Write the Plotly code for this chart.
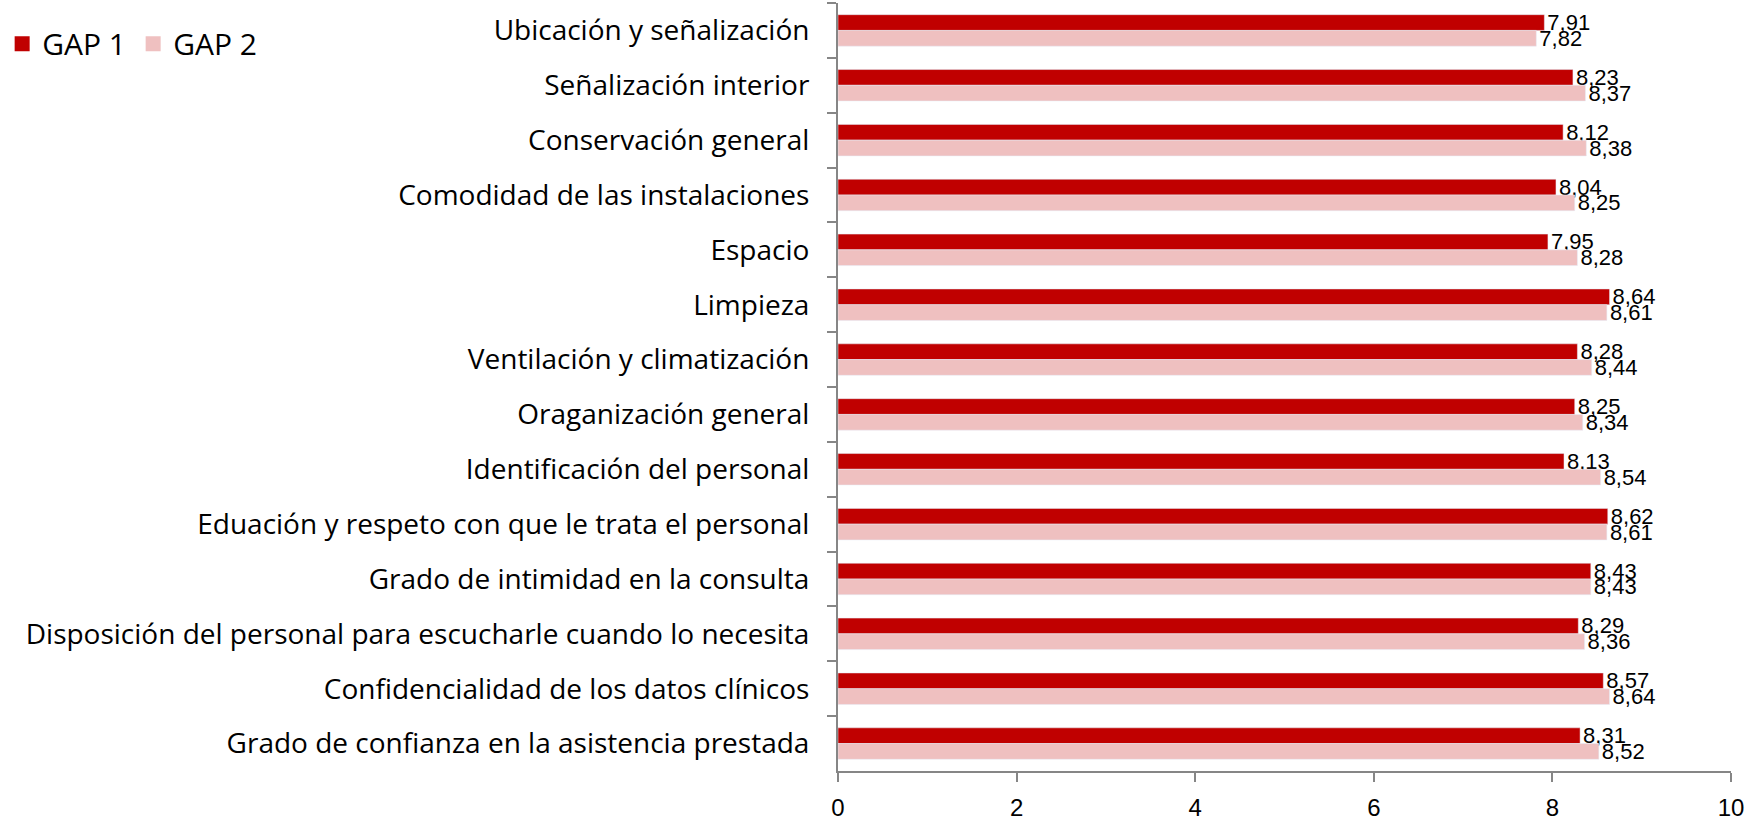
import plotly.graph_objects as go

categories = [
    "Ubicación y señalización",
    "Señalización interior",
    "Conservación general",
    "Comodidad de las instalaciones",
    "Espacio",
    "Limpieza",
    "Ventilación y climatización",
    "Oraganización general",
    "Identificación del personal",
    "Eduación y respeto con que le trata el personal",
    "Grado de intimidad en la consulta",
    "Disposición del personal para escucharle cuando lo necesita",
    "Confidencialidad de los datos clínicos",
    "Grado de confianza en la asistencia prestada",
]
gap1 = [7.91, 8.23, 8.12, 8.04, 7.95, 8.64, 8.28, 8.25, 8.13, 8.62, 8.43, 8.29, 8.57, 8.31]
gap2 = [7.82, 8.37, 8.38, 8.25, 8.28, 8.61, 8.44, 8.34, 8.54, 8.61, 8.43, 8.36, 8.64, 8.52]

RED = "#C00000"
PINK = "#EFC0C0"
num_font = "Liberation Sans, Arial, sans-serif"
label_font = dict(family=num_font, size=22, color="black")

fig = go.Figure()
fig.add_trace(go.Bar(y=categories, x=gap1, name="GAP 1", orientation="h",
                     marker_color=RED, texttemplate="%{x:.2f}",
                     textposition="outside", textfont=label_font, constraintext="none",
                     cliponaxis=False, showlegend=False))
fig.add_trace(go.Bar(y=categories, x=gap2, name="GAP 2", orientation="h",
                     marker_color=PINK, texttemplate="%{x:.2f}",
                     textposition="outside", textfont=label_font, constraintext="none",
                     cliponaxis=False, showlegend=False))
# legend entries with bigger square swatches
for name, col in [("GAP 1", RED), ("GAP 2", PINK)]:
    fig.add_trace(go.Scatter(x=[None], y=[None], mode="markers", name=name,
                             marker=dict(symbol="square", size=15, color=col)))

fig.update_layout(
    width=1762, height=820,
    margin=dict(l=827, r=31, t=3, b=49),
    barmode="group", bargap=0.426, bargroupgap=0,
    separators=",.",
    plot_bgcolor="white", paper_bgcolor="white",
    font=dict(family="Open Sans, sans-serif", size=28, color="black"),
    legend=dict(orientation="h", x=-0.936, y=0.947, yanchor="middle", xanchor="left",
                font=dict(size=30), itemwidth=30, entrywidth=86,
                traceorder="normal", tracegroupgap=0),
)
fig.update_xaxes(range=[0, 10], dtick=2, showline=True, linecolor="#868686", linewidth=2,
                 ticks="outside", tickcolor="#868686", ticklen=9, tickwidth=2,
                 showgrid=False, zeroline=False, automargin=False, ticklabelstandoff=5,
                 tickfont=dict(family=num_font, size=24))
fig.update_yaxes(autorange="reversed", showline=True, linecolor="#868686", linewidth=2,
                 ticks="outside", tickson="boundaries", tickcolor="#868686", ticklen=9, tickwidth=2,
                 showgrid=False, automargin=False, ticklabelstandoff=21)

# page body has a default 8px margin; drop it so the figure sits at the window corner
fig.write_html("out.html", config={"displayModeBar": False},
               post_script="document.body.style.margin='0';")
